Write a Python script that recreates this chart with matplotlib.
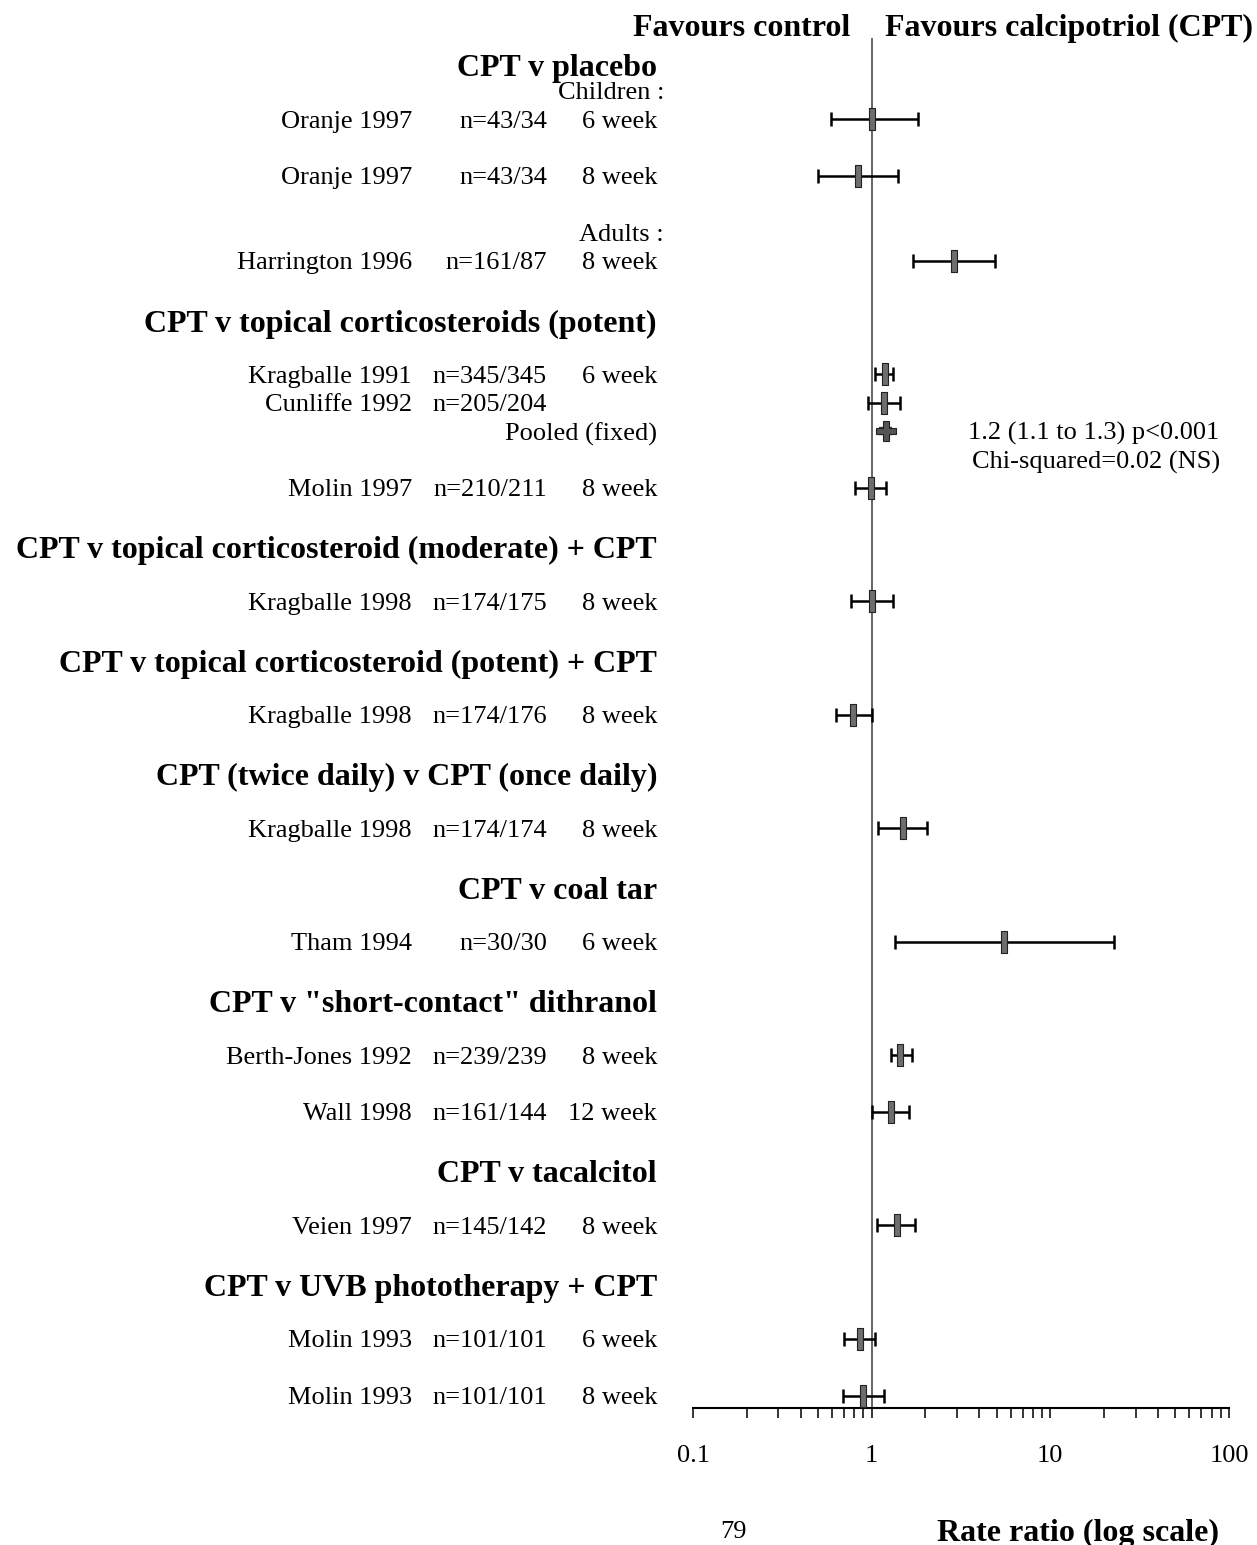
import matplotlib
matplotlib.use("Agg")
import matplotlib.pyplot as plt
import matplotlib.transforms as mtransforms
import numpy as np

plt.rcParams['font.family'] = ['Liberation Serif', 'DejaVu Serif']

# ---- data -------------------------------------------------------------
group_titles = [
    "CPT v placebo",
    "CPT v topical corticosteroids (potent)",
    "CPT v topical corticosteroid (moderate) + CPT",
    "CPT v topical corticosteroid (potent) + CPT",
    "CPT (twice daily) v CPT (once daily)",
    "CPT v coal tar",
    'CPT v "short-contact" dithranol',
    "CPT v tacalcitol",
    "CPT v UVB phototherapy + CPT",
]

study_names = ["Oranje 1997", "Oranje 1997", "Harrington 1996",
               "Kragballe 1991", "Cunliffe 1992", "Molin 1997",
               "Kragballe 1998", "Kragballe 1998", "Kragballe 1998",
               "Tham 1994", "Berth-Jones 1992", "Wall 1998",
               "Veien 1997", "Molin 1993", "Molin 1993"]
study_n = ["n=43/34", "n=43/34", "n=161/87",
           "n=345/345", "n=205/204", "n=210/211",
           "n=174/175", "n=174/176", "n=174/174",
           "n=30/30", "n=239/239", "n=161/144",
           "n=145/142", "n=101/101", "n=101/101"]
study_duration = ["6 week", "8 week", "8 week",
                  "6 week", "", "8 week",
                  "8 week", "8 week", "8 week",
                  "6 week", "8 week", "12 week",
                  "8 week", "6 week", "8 week"]
rate_ratio = [1.01, 0.84, 2.88, 1.18, 1.17, 0.99, 1.00, 0.79, 1.49,
              5.49, 1.45, 1.28, 1.39, 0.86, 0.89]
ci_low = [0.59, 0.50, 1.70, 1.05, 0.95, 0.81, 0.77, 0.63, 1.09,
          1.35, 1.28, 1.01, 1.07, 0.70, 0.69]
ci_high = [1.81, 1.40, 4.89, 1.31, 1.44, 1.20, 1.31, 1.01, 2.03,
           22.7, 1.68, 1.61, 1.75, 1.04, 1.17]

pooled_label = "Pooled (fixed)"
pooled_rr, pooled_low, pooled_high = 1.2, 1.1, 1.3
pooled_text = ["1.2 (1.1 to 1.3) p<0.001", "Chi-squared=0.02 (NS)"]

xtick_values = [0.1, 1, 10, 100]
xtick_labels = ["0.1", "1", "10", "100"]

# ---- layout: (kind, payload, step from previous line in row units) ----
layout = [
    ("group", 0, 0.0), ("sub", "Children :", 0.5), ("study", 0, 0.5),
    ("study", 1, 1.0), ("sub", "Adults :", 1.0), ("study", 2, 0.5),
    ("group", 1, 1.0), ("study", 3, 1.0), ("study", 4, 0.5),
    ("pooled", None, 0.5), ("study", 5, 1.0),
    ("group", 2, 1.0), ("study", 6, 1.0),
    ("group", 3, 1.0), ("study", 7, 1.0),
    ("group", 4, 1.0), ("study", 8, 1.0),
    ("group", 5, 1.0), ("study", 9, 1.0),
    ("group", 6, 1.0), ("study", 10, 1.0), ("study", 11, 1.0),
    ("group", 7, 1.0), ("study", 12, 1.0),
    ("group", 8, 1.0), ("study", 13, 1.0), ("study", 14, 1.0),
]

W, H = 1257, 1545
fig = plt.figure(figsize=(W / 100, H / 100), dpi=100)
fig.patch.set_facecolor("white")

ax_left, ax_right = 693 / W, 1229 / W
ax_bottom, ax_top = 1 - 1408 / H, 1 - 38 / H
ax = fig.add_axes([ax_left, ax_bottom, ax_right - ax_left, ax_top - ax_bottom])

row_top, row_bottom = -1.43, 22.72
ax.set_ylim(row_bottom, row_top)
ax.set_xscale("log")
ax.set_xlim(0.1, 100)

# resolve row positions
study_rows = [None] * len(study_names)
pos = -1.0
rows = []
for kind, payload, step in layout:
    pos += step
    rows.append((kind, payload, pos))
    if kind == "study":
        study_rows[payload] = pos
    if kind == "pooled":
        pooled_row = pos

# text placement: x in figure pixels, y in data rows
trans = mtransforms.blended_transform_factory(fig.transFigure, ax.transData)
REG = 19
BOLD = 23
VA = "center_baseline"
x_name, x_n, x_dur, x_head = 412 / W, 547 / W, 657 / W, 657 / W

for kind, payload, y in rows:
    if kind == "group":
        ax.text(x_head, y + 0.05, group_titles[payload], transform=trans,
                ha="right", va=VA, fontsize=BOLD, fontweight="bold",
                clip_on=False)
    elif kind == "sub":
        ax.text(664 / W, y, payload, transform=trans, ha="right",
                va=VA, fontsize=REG, clip_on=False)
    elif kind == "study":
        i = payload
        ax.text(x_name, y, study_names[i], transform=trans, ha="right",
                va=VA, fontsize=REG, clip_on=False)
        ax.text(x_n, y, study_n[i], transform=trans, ha="right",
                va=VA, fontsize=REG, clip_on=False)
        if study_duration[i]:
            ax.text(x_dur, y, study_duration[i], transform=trans, ha="right",
                    va=VA, fontsize=REG, clip_on=False)
    elif kind == "pooled":
        ax.text(x_dur, y, pooled_label, transform=trans, ha="right",
                va=VA, fontsize=REG, clip_on=False)

# line of no effect
ax.axvline(1, color="#3a3a3a", lw=1.1, zorder=1)

# study estimates with confidence intervals
rr = np.array(rate_ratio)
lo = np.array(ci_low)
hi = np.array(ci_high)
ys = np.array(study_rows)
ax.errorbar(rr, ys, xerr=[rr - lo, hi - rr], fmt="none", ecolor="black",
            elinewidth=1.8, capsize=5, capthick=1.8, zorder=2)
box = [(-0.14, -0.5), (0.14, -0.5), (0.14, 0.5), (-0.14, 0.5), (-0.14, -0.5)]
ax.plot(rr, ys, ls="none", marker=box, ms=16, mfc="#6e6e6e", mec="#222222",
        mew=0.8, zorder=3)

# pooled estimate
ax.plot([pooled_low, pooled_high], [pooled_row, pooled_row], color="#333333",
        lw=6, solid_capstyle="butt", zorder=2)
ax.plot([pooled_rr], [pooled_row], ls="none", marker="P", ms=15,
        mfc="#555555", mec="#222222", mew=0.8, zorder=3)
ax.text(1094 / W, pooled_row, pooled_text[0], transform=trans, ha="center",
        va=VA, fontsize=REG, clip_on=False)
ax.text(1096 / W, pooled_row + 0.5, pooled_text[1], transform=trans,
        ha="center", va=VA, fontsize=REG, clip_on=False)

# axis styling
for side in ("left", "top", "right"):
    ax.spines[side].set_visible(False)
ax.spines["bottom"].set_linewidth(1.5)
ax.set_yticks([])
ax.set_xticks(xtick_values)
ax.set_xticklabels(xtick_labels)
ax.xaxis.set_minor_locator(matplotlib.ticker.LogLocator(base=10, subs=np.arange(2, 10)))
ax.xaxis.set_minor_formatter(matplotlib.ticker.NullFormatter())
ax.tick_params(axis="x", which="both", direction="out", length=7, width=1.1,
               labelsize=REG, pad=20)
ax.set_facecolor("none")

# header and footer
fig.text(850 / W, 1 - 25 / H, "Favours control", ha="right", va=VA,
         fontsize=BOLD, fontweight="bold")
fig.text(885 / W, 1 - 25 / H, "Favours calcipotriol (CPT)", ha="left",
         va=VA, fontsize=BOLD, fontweight="bold")
fig.text(733 / W, 1 - 1530 / H, "79", ha="center", va=VA, fontsize=REG)
fig.text(1078 / W, 1 - 1530 / H, "Rate ratio (log scale)", ha="center",
         va=VA, fontsize=BOLD, fontweight="bold")

fig.savefig("out.png", dpi=100, facecolor="white")
